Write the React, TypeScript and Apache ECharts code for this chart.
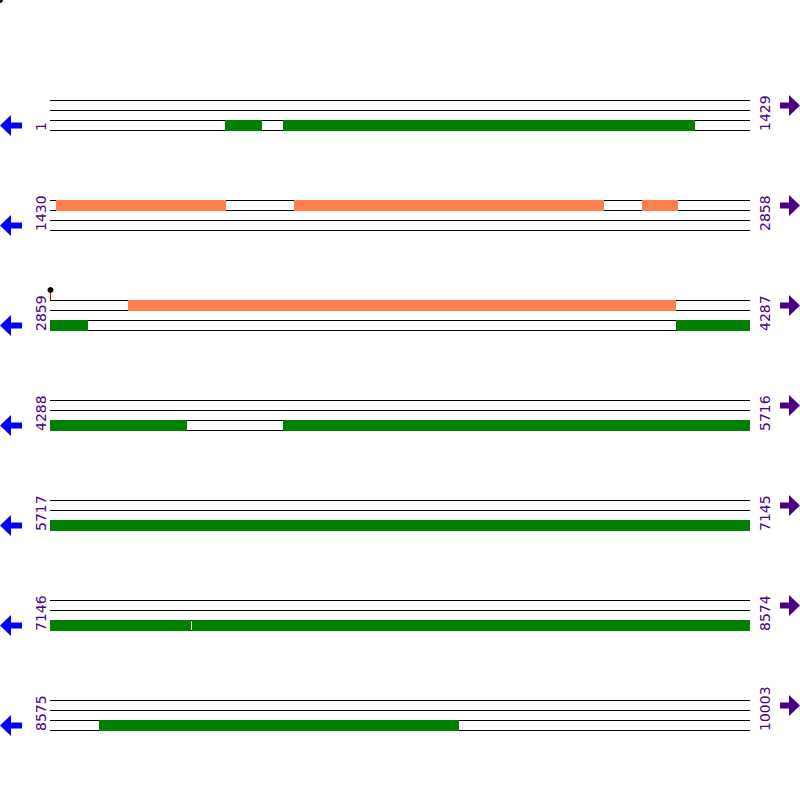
import React, { useEffect, useRef } from "react";
import * as echarts from "echarts";

const rowStarts = [1, 1430, 2859, 4288, 5717, 7146, 8575];
const rowEnds = [1429, 2858, 4287, 5716, 7145, 8574, 10003];
const basesPerRow = 1429;
const forwardFeatures = [
  [1442, 1788],
  [1928, 2560],
  [2638, 2711],
  [3018, 4136],
];
const reverseFeatures = [
  [358, 433],
  [477, 1317],
  [2859, 2936],
  [4137, 4567],
  [4764, 7433],
  [7436, 8574],
  [8675, 9409],
];
const markerPositions = [2860];

const PURPLE = "#4B0082";
const BLUE = "#0000FF";
const ORANGE = "#FF7F50";
const GREEN = "#008000";

export default function App() {
  const ref = useRef<HTMLDivElement>(null);
  useEffect(() => {
    document.body.style.margin = "0";
    const chart = echarts.init(ref.current!, null, { renderer: "svg" });

    const renderItem = (params: any, api: any) => {
      const r = api.value(0);
      const rs = rowStarts[r];
      const re = rowEnds[r];
      const base = 10 + 10 * r;
      const xL = api.coord([0, base])[0];
      const xR = api.coord([basesPerRow, base])[0];
      const yAt = (k: number) => api.coord([0, base + k])[1];
      const children: any[] = [];
      for (let k = 0; k < 4; k++) {
        const y = Math.round(yAt(k)) + 0.5;
        children.push({
          type: "line",
          shape: { x1: xL, y1: y, x2: xR, y2: y },
          style: { stroke: "#000", lineWidth: 1 },
        });
      }
      const addFeatures = (list: number[][], k0: number, color: string) => {
        list.forEach(([s0, e0]) => {
          const s = Math.max(s0, rs);
          const e = Math.min(e0, re);
          if (s > e) return;
          const x1 = api.coord([s - rs, base])[0];
          const x2 = api.coord([e - rs + 1, base])[0];
          const y1 = Math.round(yAt(k0));
          const y2 = Math.round(yAt(k0 + 1)) + 1;
          children.push({
            type: "rect",
            shape: { x: Math.round(x1), y: y1, width: Math.round(x2) - Math.round(x1), height: y2 - y1 },
            style: { fill: color },
          });
        });
      };
      addFeatures(forwardFeatures, 0, ORANGE);
      addFeatures(reverseFeatures, 2, GREEN);

      markerPositions.forEach((p) => {
        if (p < rs || p > re) return;
        const x = Math.round(api.coord([p - rs, base])[0]) + 0.5;
        const y0 = Math.round(yAt(0));
        const yTop = Math.round(yAt(-1));
        children.push({
          type: "line",
          shape: { x1: x, y1: yTop, x2: x, y2: y0 },
          style: { stroke: "#FF0000", lineWidth: 1 },
        });
        children.push({
          type: "circle",
          shape: { cx: x, cy: yTop, r: 3 },
          style: { fill: "#000" },
        });
      });

      // left (reverse) arrow
      const cyL = (yAt(2) + yAt(3)) / 2 + 0.5;
      const ax = xL - 50;
      children.push({
        type: "polygon",
        shape: {
          points: [
            [ax, cyL],
            [ax + 11, cyL - 10.5],
            [ax + 11, cyL - 3],
            [ax + 22, cyL - 3],
            [ax + 22, cyL + 3],
            [ax + 11, cyL + 3],
            [ax + 11, cyL + 10.5],
          ],
        },
        style: { fill: BLUE },
      });
      // right (forward) arrow
      const cyR = (yAt(0) + yAt(1)) / 2 + 0.5;
      const bx = xR + 50;
      children.push({
        type: "polygon",
        shape: {
          points: [
            [bx, cyR],
            [bx - 11, cyR - 10.5],
            [bx - 11, cyR - 3],
            [bx - 20, cyR - 3],
            [bx - 20, cyR + 3],
            [bx - 11, cyR + 3],
            [bx - 11, cyR + 10.5],
          ],
        },
        style: { fill: PURPLE },
      });
      // labels
      children.push({
        type: "text",
        x: xL - 9,
        y: yAt(3) + 1,
        rotation: Math.PI / 2,
        style: {
          text: String(rs),
          fill: PURPLE,
          font: "14px 'DejaVu Sans'",
          align: "left",
          verticalAlign: "middle",
        },
      });
      children.push({
        type: "text",
        x: xR + 15,
        y: yAt(3) + 1,
        rotation: Math.PI / 2,
        style: {
          text: String(re),
          fill: PURPLE,
          font: "14px 'DejaVu Sans'",
          align: "left",
          verticalAlign: "middle",
        },
      });
      return { type: "group", children };
    };

    chart.setOption({
      animation: false,
      backgroundColor: "#fff",
      grid: { left: 50, right: 50, top: 0, bottom: 0 },
      xAxis: { type: "value", min: 0, max: basesPerRow, show: false },
      yAxis: { type: "value", min: 0, max: 80, inverse: true, show: false },
      graphic: [
        { type: "circle", shape: { cx: 0, cy: 0, r: 3 }, style: { fill: "#000" } },
      ],
      series: [
        {
          type: "custom",
          clip: false,
          silent: true,
          renderItem,
          data: rowStarts.map((_, i) => [i]),
        },
      ],
    });
    return () => chart.dispose();
  }, []);
  return <div ref={ref} style={{ width: 800, height: 800 }} />;
}
